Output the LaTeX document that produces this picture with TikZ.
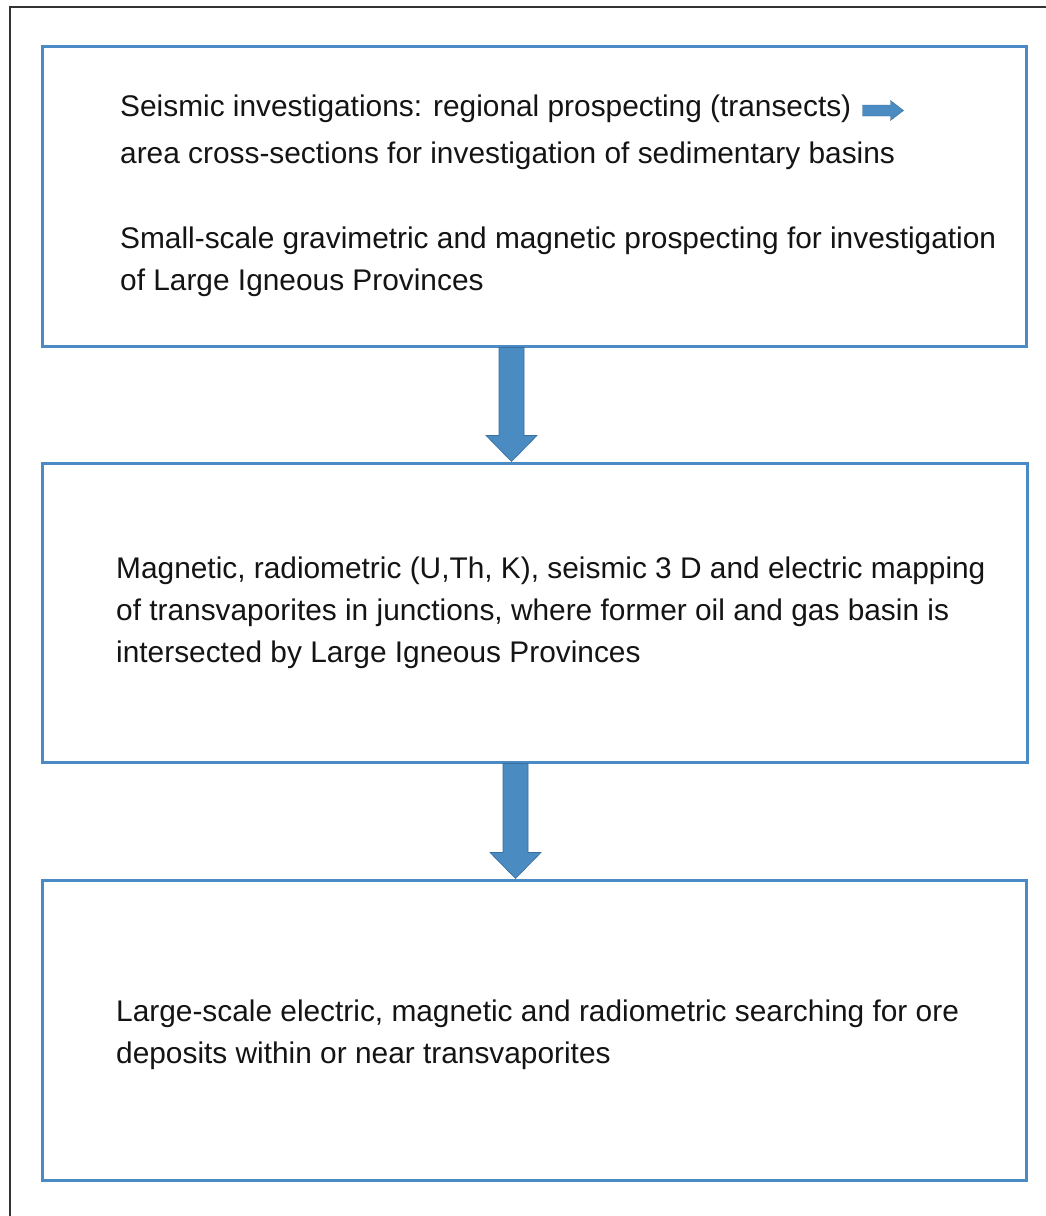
\documentclass[tikz,border=0pt]{standalone}
\usepackage{fontspec}
\setmainfont{Liberation Sans}
\usetikzlibrary{calc}
\definecolor{boxblue}{HTML}{4A8BC6}
\definecolor{arrowfill}{HTML}{4A8BC2}
\definecolor{arrowedge}{HTML}{3A6E9E}
\tikzset{
  flowbox/.style={draw=boxblue, line width=3pt, fill=white, rectangle, inner sep=0pt},
  txt/.style={anchor=base west, inner sep=0pt, font=\fontsize{29.85}{42}\selectfont, text=black!92},
  bigarrow/.style={fill=arrowfill, draw=arrowedge, line width=0.6pt, line join=miter},
}
\begin{document}
\begin{tikzpicture}[x=1pt,y=-1pt]
\useasboundingbox (0,0) rectangle (1046,1216);
\fill[white] (0,0) rectangle (1046,1216);
% outer frame (continues past the page on the right and bottom)
\draw[black!80, line width=1.5pt] (1060,7) -- (10,7) -- (10,1230);

% boxes
\node[flowbox, minimum width=984, minimum height=300] (b1) at (534,196) {};
\node[flowbox, minimum width=985, minimum height=299] (b2) at (534.5,612.5) {};
\node[flowbox, minimum width=984, minimum height=300] (b3) at (534,1030) {};

% texts box 1
\node[txt] (t1) at (120,116) {Seismic investigations: regional prospecting (transects)};
\node[txt] (t2) at (120,163) {area cross-sections for investigation of sedimentary basins};
\node[txt] (t3) at (120,248) {Small-scale gravimetric and magnetic prospecting for investigation};
\node[txt] (t4) at (120,290) {of Large Igneous Provinces};

% small inline arrow
\draw[bigarrow, line width=0.4pt] ($(t1.base east)+(11,-11)$) -- ++(28,0) -- ++(0,-4.5) -- ++(13,10) -- ++(-13,10) -- ++(0,-4.5) -- ++(-28,0) -- cycle;

% texts box 2
\node[txt] (u1) at (116,578) {Magnetic, radiometric (U,Th, K), seismic 3 D and electric mapping};
\node[txt] (u2) at (116,620) {of transvaporites in junctions, where former oil and gas basin is};
\node[txt] (u3) at (116,662) {intersected by Large Igneous Provinces};

% texts box 3
\node[txt] (v1) at (116,1021) {Large-scale electric, magnetic and radiometric searching for ore};
\node[txt] (v2) at (116,1063) {deposits within or near transvaporites};

% block arrows between boxes
\newcommand\flowarrow[3]{%
  \path let \p1=($(#1.south)+(#3,0)$), \p2=($(#2.north)+(#3,0)$) in
    [bigarrow] (\x1-12.5pt,\y1) -- (\x1+12.5pt,\y1) -- (\x1+12.5pt,\y2+26pt)
    -- (\x1+25.5pt,\y2+26pt) -- (\x1,\y2) -- (\x1-25.5pt,\y2+26pt)
    -- (\x1-12.5pt,\y2+26pt) -- cycle;}
\flowarrow{b1}{b2}{-22.5}
\flowarrow{b2}{b3}{-19}
\end{tikzpicture}
\end{document}
